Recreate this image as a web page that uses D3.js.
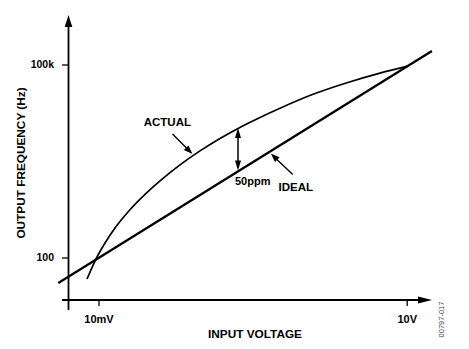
<!DOCTYPE html>
<html>
<head>
<meta charset="utf-8">
<script src="https://cdn.jsdelivr.net/npm/d3@7"></script>
<style>
  html, body { margin: 0; padding: 0; background: #fff; }
  svg { display: block; }
  text { font-family: "Liberation Sans", Arial, Helvetica, sans-serif; fill: #000; }
</style>
</head>
<body>
<svg id="chart" width="469" height="349"></svg>
<script>
// Tick values and their labels
const xTickValues = [0.01, 10];
const xTickLabels = ["10mV", "10V"];
const yTickValues = [100, 100000];
const yTickLabels = ["100", "100k"];

// Ideal transfer characteristic (volts -> Hz), straight on log-log axes
const idealVolts = [0.00406, 17.6];
const idealFreq  = [40, 162000];

// Actual transfer characteristic
const actualVolts = [0.00773, 0.00924, 0.01157, 0.01447, 0.02025, 0.02835, 0.03969, 0.06213,
                     0.09727, 0.1523, 0.2279, 0.3734, 0.5846, 1.2246, 2.624, 5.498, 10.30];
const actualFreq  = [46.3, 88.2, 168, 287.5, 553, 957, 1551, 2751,
                     4540, 7076, 10160, 15060, 20930, 34430, 52140, 73550, 94470];

// Annotation anchors (input voltages)
const errorMarkerV   = 0.228;   // double-headed "50ppm" arrow
const actualPointerV = 0.0837;  // "ACTUAL" pointer
const idealPointerV  = 0.467;   // "IDEAL" pointer

const svg = d3.select("#chart");

const x = d3.scaleLog().domain([0.01, 10]).range([98.5, 406.7]);
const y = d3.scaleLog().domain([100, 100000]).range([257.5, 64.5]);

const axisX = 68.5;     // vertical axis position
const axisY = 300;      // horizontal axis position

// ---- helpers ----
function arrowHead(g, tip, from, len, halfW) {
  const dx = tip[0] - from[0], dy = tip[1] - from[1];
  const d = Math.hypot(dx, dy), ux = dx / d, uy = dy / d;
  const bx = tip[0] - ux * len, by = tip[1] - uy * len;
  const px = -uy * halfW, py = ux * halfW;
  g.append("path")
    .attr("d", `M${tip[0]},${tip[1]}L${bx + px},${by + py}L${bx - px},${by - py}Z`)
    .attr("fill", "#000");
}
function pixelSeries(vs, fs) { return vs.map((v, i) => [x(v), y(fs[i])]); }
function yAtX(pts, px) {
  for (let i = 0; i < pts.length - 1; i++) {
    const a = pts[i], b = pts[i + 1];
    if (px >= a[0] && px <= b[0]) {
      const t = (px - a[0]) / (b[0] - a[0]);
      return a[1] + t * (b[1] - a[1]);
    }
  }
  return pts[pts.length - 1][1];
}

// ---- axes ----
const xAxis = d3.axisBottom(x)
  .tickValues(xTickValues)
  .tickFormat((d, i) => xTickLabels[i])
  .tickSize(6).tickPadding(9.5);
const gx = svg.append("g").attr("transform", `translate(0,${axisY})`).call(xAxis);
gx.select(".domain").remove();
gx.selectAll(".tick line").attr("stroke", "#000").attr("stroke-width", 1.3);
gx.selectAll(".tick text").attr("font-size", 11).attr("font-weight", "bold")
  .attr("font-family", "'Liberation Sans', Arial, sans-serif").attr("fill", "#000");

const yAxis = d3.axisLeft(y)
  .tickValues(yTickValues)
  .tickFormat((d, i) => yTickLabels[i])
  .tickSize(6.5).tickPadding(8);
const gy = svg.append("g").attr("transform", `translate(${axisX},0)`).call(yAxis);
gy.select(".domain").remove();
gy.selectAll(".tick line").attr("stroke", "#000").attr("stroke-width", 1.3);
gy.selectAll(".tick text").attr("font-size", 10.5).attr("font-weight", "bold")
  .attr("font-family", "'Liberation Sans', Arial, sans-serif").attr("fill", "#000");

// axis lines with arrowheads
const axes = svg.append("g");
axes.append("line").attr("x1", axisX).attr("x2", axisX).attr("y1", 310).attr("y2", 24)
  .attr("stroke", "#000").attr("stroke-width", 1.8);
arrowHead(axes, [axisX, 15], [axisX, 40], 12, 3.8);
axes.append("line").attr("x1", 62).attr("x2", 420).attr("y1", axisY).attr("y2", axisY)
  .attr("stroke", "#000").attr("stroke-width", 1.8);
arrowHead(axes, [432, axisY], [400, axisY], 14, 3.6);

// axis titles
svg.append("text")
  .attr("x", 255).attr("y", 337.5)
  .attr("text-anchor", "middle")
  .attr("font-size", 11.8).attr("font-weight", "bold")
  .text("INPUT VOLTAGE");
svg.append("text")
  .attr("transform", "translate(24.5,163) rotate(-90)")
  .attr("text-anchor", "middle")
  .attr("font-size", 11.8).attr("font-weight", "bold")
  .text("OUTPUT FREQUENCY (Hz)");
svg.append("text")
  .attr("transform", "translate(444,319.5) rotate(-90)")
  .attr("text-anchor", "middle")
  .attr("font-size", 7.5)
  .style("fill", "#444")
  .text("00797-017");

// ---- curves ----
const idealPts = pixelSeries(idealVolts, idealFreq);
const actualPts = pixelSeries(actualVolts, actualFreq);

svg.append("path")
  .attr("d", d3.line()(idealPts))
  .attr("fill", "none").attr("stroke", "#000").attr("stroke-width", 2.3);

svg.append("path")
  .attr("d", d3.line().curve(d3.curveMonotoneX)(actualPts))
  .attr("fill", "none").attr("stroke", "#000").attr("stroke-width", 1.7);

// ---- annotations ----
const ann = svg.append("g");

// 50ppm error marker
const ex = x(errorMarkerV);
const eTop = yAtX(actualPts, ex) - 0.5;
const eBot = yAtX(idealPts, ex) - 1;
ann.append("line").attr("x1", ex).attr("x2", ex).attr("y1", eTop + 6).attr("y2", eBot - 6)
  .attr("stroke", "#000").attr("stroke-width", 1.5);
arrowHead(ann, [ex, eTop], [ex, eBot], 10, 3);
arrowHead(ann, [ex, eBot], [ex, eTop], 10, 3);
ann.append("text").attr("x", ex - 3).attr("y", eBot + 15)
  .attr("font-size", 11).attr("font-weight", "bold").text("50ppm");

// ACTUAL pointer
const ax = x(actualPointerV);
const aTip = [ax - 0.8, yAtX(actualPts, ax) - 1.5];
const aTail = [aTip[0] - 20, aTip[1] - 20];
ann.append("line").attr("x1", aTail[0]).attr("y1", aTail[1])
  .attr("x2", aTip[0] - 5).attr("y2", aTip[1] - 5)
  .attr("stroke", "#000").attr("stroke-width", 1.4);
arrowHead(ann, aTip, aTail, 9, 3.3);
ann.append("text").attr("x", aTail[0] + 18.5).attr("y", aTail[1] - 8.5)
  .attr("text-anchor", "end")
  .attr("font-size", 11.5).attr("font-weight", "bold").text("ACTUAL");

// IDEAL pointer
const ix = x(idealPointerV);
const iTip = [ix + 0.8, yAtX(idealPts, ix) + 1.8];
const iTail = [iTip[0] + 22, iTip[1] + 21];
ann.append("line").attr("x1", iTail[0]).attr("y1", iTail[1])
  .attr("x2", iTip[0] + 5).attr("y2", iTip[1] + 5)
  .attr("stroke", "#000").attr("stroke-width", 1.4);
arrowHead(ann, iTip, iTail, 9, 3.3);
ann.append("text").attr("x", iTail[0] - 14.3).attr("y", iTail[1] + 16.3)
  .attr("font-size", 11.5).attr("font-weight", "bold").text("IDEAL");
</script>
</body>
</html>
